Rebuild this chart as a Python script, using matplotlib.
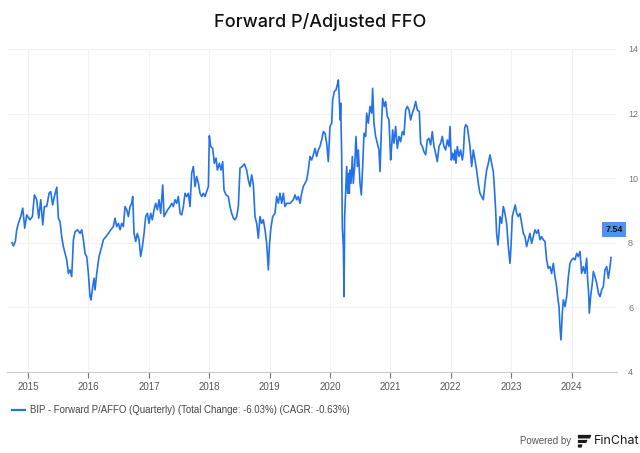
import numpy as np
import matplotlib
matplotlib.use("Agg")
import matplotlib.pyplot as plt
from matplotlib.patches import Polygon

# decimal year and Forward P/AFFO values
dates = [
    2014.735, 2014.757, 2014.790, 2014.812, 2014.840, 2014.879, 2014.912, 2014.945, 2014.978, 2015.033,
    2015.072, 2015.105, 2015.143, 2015.177, 2015.210, 2015.243, 2015.270, 2015.309, 2015.348, 2015.375,
    2015.408, 2015.436, 2015.475, 2015.502, 2015.530, 2015.557, 2015.585, 2015.613, 2015.640, 2015.668,
    2015.695, 2015.723, 2015.751, 2015.778, 2015.817, 2015.861, 2015.889, 2015.916, 2015.944, 2015.971,
    2015.999, 2016.026, 2016.043, 2016.071, 2016.093, 2016.109, 2016.137, 2016.175, 2016.220, 2016.247,
    2016.291, 2016.330, 2016.369, 2016.413, 2016.440, 2016.468, 2016.496, 2016.523, 2016.551, 2016.578,
    2016.606, 2016.634, 2016.661, 2016.689, 2016.716, 2016.733, 2016.755, 2016.783, 2016.810, 2016.838,
    2016.865, 2016.893, 2016.921, 2016.948, 2016.976, 2017.003, 2017.031, 2017.058, 2017.086, 2017.114,
    2017.141, 2017.169, 2017.196, 2017.230, 2017.252, 2017.279, 2017.312, 2017.351, 2017.379, 2017.406,
    2017.434, 2017.461, 2017.489, 2017.517, 2017.544, 2017.572, 2017.599, 2017.627, 2017.655, 2017.682,
    2017.710, 2017.737, 2017.765, 2017.792, 2017.820, 2017.848, 2017.875, 2017.903, 2017.930, 2017.958,
    2017.986, 2018.002, 2018.024, 2018.057, 2018.085, 2018.113, 2018.135, 2018.168, 2018.195, 2018.223,
    2018.245, 2018.278, 2018.317, 2018.344, 2018.372, 2018.400, 2018.427, 2018.455, 2018.482, 2018.510,
    2018.549, 2018.582, 2018.620, 2018.648, 2018.675, 2018.703, 2018.731, 2018.758, 2018.786, 2018.813,
    2018.841, 2018.869, 2018.896, 2018.924, 2018.951, 2018.979, 2018.996, 2019.018, 2019.051, 2019.089,
    2019.117, 2019.145, 2019.172, 2019.200, 2019.227, 2019.255, 2019.283, 2019.338, 2019.393, 2019.421,
    2019.448, 2019.476, 2019.503, 2019.531, 2019.558, 2019.586, 2019.614, 2019.641, 2019.669, 2019.696,
    2019.724, 2019.752, 2019.779, 2019.807, 2019.834, 2019.862, 2019.890, 2019.917, 2019.945, 2019.972,
    2020.000, 2020.028, 2020.044, 2020.072, 2020.099, 2020.121, 2020.138, 2020.155, 2020.166, 2020.177,
    2020.193, 2020.204, 2020.221, 2020.232, 2020.243, 2020.259, 2020.276, 2020.293, 2020.309, 2020.320,
    2020.331, 2020.348, 2020.370, 2020.386, 2020.408, 2020.430, 2020.453, 2020.469, 2020.497, 2020.519,
    2020.541, 2020.563, 2020.591, 2020.607, 2020.635, 2020.662, 2020.690, 2020.706, 2020.728, 2020.756,
    2020.784, 2020.811, 2020.828, 2020.856, 2020.872, 2020.900, 2020.922, 2020.949, 2020.977, 2021.004,
    2021.021, 2021.038, 2021.060, 2021.087, 2021.115, 2021.143, 2021.170, 2021.198, 2021.225, 2021.253,
    2021.281, 2021.308, 2021.336, 2021.363, 2021.391, 2021.419, 2021.446, 2021.479, 2021.501, 2021.529,
    2021.556, 2021.584, 2021.611, 2021.639, 2021.667, 2021.694, 2021.722, 2021.749, 2021.777, 2021.805,
    2021.832, 2021.860, 2021.887, 2021.915, 2021.943, 2021.970, 2021.987, 2022.009, 2022.031, 2022.053,
    2022.069, 2022.086, 2022.108, 2022.136, 2022.163, 2022.191, 2022.208, 2022.230, 2022.247, 2022.274,
    2022.296, 2022.318, 2022.346, 2022.373, 2022.401, 2022.428, 2022.456, 2022.483, 2022.511, 2022.539,
    2022.566, 2022.594, 2022.622, 2022.649, 2022.677, 2022.704, 2022.721, 2022.743, 2022.759, 2022.781,
    2022.798, 2022.815, 2022.842, 2022.870, 2022.897, 2022.925, 2022.953, 2022.980, 2022.997, 2023.019,
    2023.046, 2023.068, 2023.091, 2023.118, 2023.146, 2023.174, 2023.201, 2023.229, 2023.256, 2023.284,
    2023.311, 2023.339, 2023.366, 2023.394, 2023.422, 2023.449, 2023.477, 2023.504, 2023.532, 2023.560,
    2023.587, 2023.615, 2023.642, 2023.670, 2023.698, 2023.725, 2023.753, 2023.770, 2023.792, 2023.808,
    2023.825, 2023.847, 2023.864, 2023.892, 2023.919, 2023.947, 2023.974, 2024.002, 2024.029, 2024.057,
    2024.085, 2024.112, 2024.140, 2024.167, 2024.195, 2024.223, 2024.250, 2024.267, 2024.283, 2024.294,
    2024.316, 2024.344, 2024.361, 2024.388, 2024.416, 2024.444, 2024.471, 2024.499, 2024.526, 2024.554,
    2024.582, 2024.609, 2024.637, 2024.654,
]
values = [
    8.00, 7.90, 8.04, 8.40, 8.60, 8.81, 9.07, 8.45, 8.86, 8.71,
    8.81, 9.48, 9.33, 8.76, 9.33, 8.55, 9.12, 9.12, 9.53, 9.58,
    9.17, 9.43, 9.72, 8.76, 8.65, 8.19, 7.88, 7.67, 7.47, 7.05,
    7.16, 6.95, 8.09, 8.34, 8.40, 8.29, 8.40, 8.09, 7.67, 7.57,
    7.05, 6.33, 6.23, 6.64, 6.90, 6.54, 7.05, 7.57, 7.88, 8.09,
    8.19, 8.29, 8.40, 8.50, 8.76, 8.50, 8.60, 8.40, 8.60, 8.50,
    9.12, 9.02, 8.81, 9.12, 9.22, 9.43, 8.29, 8.04, 8.29, 8.09,
    7.57, 7.88, 8.29, 8.81, 8.91, 8.60, 8.91, 8.71, 9.02, 9.22,
    9.02, 9.33, 8.91, 9.79, 8.81, 8.91, 9.02, 9.12, 9.22, 9.12,
    9.33, 9.22, 9.43, 8.91, 8.86, 9.12, 9.53, 9.43, 9.53, 9.12,
    10.15, 10.36, 9.74, 10.05, 9.84, 9.53, 9.43, 9.53, 9.43, 9.58,
    9.74, 11.31, 10.98, 10.92, 10.46, 10.62, 10.25, 10.46, 10.25, 10.51,
    9.63, 9.48, 9.43, 9.12, 8.91, 8.76, 8.71, 8.81, 9.12, 10.31,
    10.36, 10.44, 10.25, 9.94, 9.74, 10.10, 9.79, 8.81, 8.60, 8.14,
    8.81, 8.60, 8.71, 8.40, 7.98, 7.16, 7.88, 8.40, 8.81, 8.91,
    9.43, 9.22, 9.53, 9.22, 9.53, 9.12, 9.22, 9.22, 9.33, 9.48,
    9.33, 9.43, 9.22, 9.53, 9.74, 9.84, 9.94, 10.25, 10.67, 10.56,
    10.72, 10.92, 10.67, 10.87, 10.98, 11.18, 11.44, 11.39, 11.08, 10.51,
    11.60, 11.70, 12.42, 12.68, 12.73, 12.89, 13.04, 12.42, 11.80, 12.32,
    10.77, 8.50, 7.88, 6.33, 8.81, 9.53, 10.36, 9.53, 10.15, 9.53,
    10.25, 9.84, 10.67, 9.84, 10.36, 11.29, 10.36, 10.87, 9.84, 9.48,
    10.36, 11.39, 11.29, 12.01, 11.70, 12.22, 12.01, 12.78, 11.70, 11.29,
    11.08, 10.87, 10.20, 11.80, 12.47, 12.22, 12.37, 11.91, 11.80, 10.56,
    10.98, 11.49, 11.08, 11.60, 10.92, 11.29, 11.13, 11.44, 11.34, 12.11,
    12.22, 12.11, 11.80, 12.01, 12.16, 12.37, 12.11, 12.06, 11.08, 10.98,
    10.82, 10.72, 11.18, 11.23, 11.03, 11.44, 10.98, 10.77, 10.51, 10.98,
    11.08, 11.29, 10.98, 10.87, 11.18, 10.98, 11.60, 10.56, 10.77, 10.56,
    10.87, 10.46, 10.98, 10.67, 10.87, 10.56, 10.77, 11.54, 11.65, 11.60,
    11.29, 10.98, 10.36, 10.87, 10.56, 10.25, 9.84, 9.53, 9.43, 9.33,
    9.84, 10.25, 10.46, 10.72, 10.46, 10.20, 9.74, 9.02, 8.29, 7.93,
    8.29, 8.81, 8.60, 9.12, 8.91, 8.60, 7.88, 7.36, 7.88, 8.81,
    9.02, 9.17, 8.91, 8.81, 8.91, 8.60, 8.29, 8.19, 7.88, 8.09,
    8.29, 7.98, 8.19, 8.40, 8.29, 8.40, 8.09, 8.19, 8.09, 8.04,
    7.47, 7.21, 7.26, 7.05, 7.36, 6.95, 6.64, 6.33, 6.02, 5.40,
    4.99, 5.82, 6.23, 6.02, 6.33, 6.95, 7.36, 7.47, 7.52, 7.47,
    7.67, 7.57, 7.73, 7.05, 7.26, 7.05, 7.52, 6.85, 6.44, 5.82,
    6.33, 6.75, 7.11, 6.95, 6.75, 6.44, 6.33, 6.54, 6.64, 7.16,
    7.26, 6.90, 7.26, 7.54,
]
years = list(range(2015, 2025))
y_ticks = [4, 6, 8, 10, 12, 14]
legend_label = "BIP - Forward P/AFFO (Quarterly) (Total Change: -6.03%) (CAGR: -0.63%)"

line_color = "#2472ea"

fig = plt.figure(figsize=(6.4, 4.53), dpi=100)
ax = fig.add_axes([0.011, 0.179, 0.953, 0.713])

ax.plot(dates, values, color=line_color, lw=1.2, solid_joinstyle="round")

ax.set_xlim(2014.652, 2024.752)
ax.set_ylim(4, 14)
ax.set_xticks(years)
ax.set_xticklabels([str(y) for y in years])
ax.set_yticks(y_ticks)
ax.yaxis.tick_right()
ax.grid(True, color="#f2f2f2", lw=0.8)
ax.set_axisbelow(True)
for s in ["top", "left", "right"]:
    ax.spines[s].set_visible(False)
ax.spines["bottom"].set_color("#cccccc")
ax.spines["bottom"].set_linewidth(0.8)
ax.tick_params(axis="x", direction="out", length=4, width=0.8, color="#777777",
               labelsize=7, labelcolor="#555555", pad=3)
ax.tick_params(axis="y", length=0, labelsize=6.5, labelcolor="#777777", pad=8)
for lab in ax.get_xticklabels() + ax.get_yticklabels():
    lab.set_fontfamily("Liberation Sans")

# last-value badge
ax.annotate(f"{values[-1]:.2f}", xy=(dates[-1], values[-1]), xytext=(2, 20),
            textcoords="offset points", ha="center", va="center",
            fontsize=6.5, fontweight="bold", color="#111111", family="Liberation Sans",
            bbox=dict(boxstyle="square,pad=0.35", fc="#5291f2", ec="none"))

fig.text(0.5, 0.952, "Forward P/Adjusted FFO", ha="center", va="center",
         fontsize=13, fontweight="medium", color="#111111", family="Inter")

# legend
fig.add_artist(plt.Line2D([0.019, 0.039], [0.095, 0.095], color=line_color, lw=1.6))
fig.text(0.047, 0.095, legend_label, ha="left", va="center", fontsize=6.9,
         color="#444444", family="Liberation Sans")

# powered by FinChat
fig.text(0.893, 0.027, "Powered by", ha="right", va="center", fontsize=7,
         color="#555555", family="Liberation Sans")
logo = [
    [(0.903, 0.040), (0.924, 0.040), (0.922, 0.032), (0.903, 0.032)],
    [(0.903, 0.029), (0.918, 0.029), (0.916, 0.022), (0.903, 0.022)],
    [(0.903, 0.019), (0.910, 0.019), (0.909, 0.012), (0.903, 0.012)],
]
for pts in logo:
    fig.add_artist(Polygon(pts, closed=True, transform=fig.transFigure, fc="#1a1a1a", ec="none"))
fig.text(0.928, 0.027, "FinChat", ha="left", va="center", fontsize=9,
         color="#1a1a1a", family="Inter")

fig.savefig("out.png", dpi=100, facecolor="white")
